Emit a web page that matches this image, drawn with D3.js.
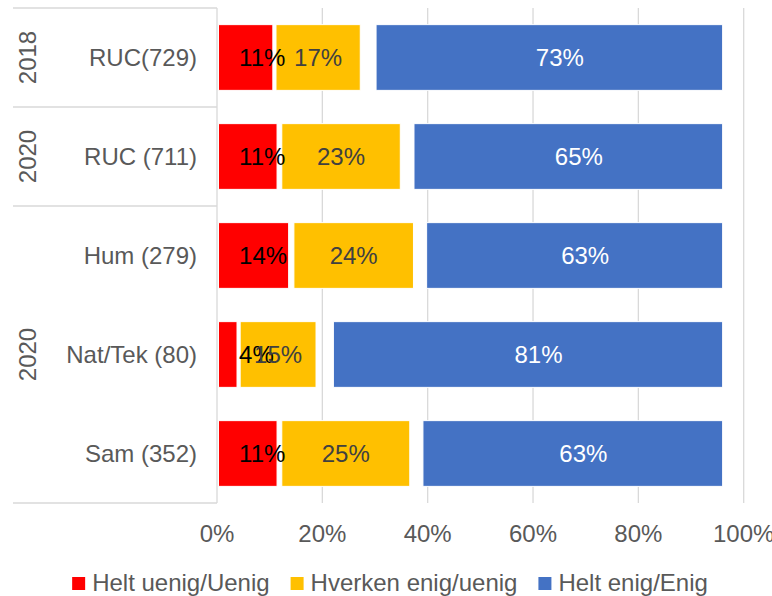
<!DOCTYPE html>
<html>
<head>
<meta charset="utf-8">
<script src="https://cdn.jsdelivr.net/npm/d3@7"></script>
<style>
  body { margin: 0; background: #fff; }
  text { font-family: "Liberation Sans", Arial, sans-serif; }
</style>
</head>
<body>
<div id="chart"></div>
<script>
const categories = ["RUC(729)", "RUC (711)", "Hum (279)", "Nat/Tek (80)", "Sam (352)"];
const yearGroups = ["2018", "2020", "2020"];
const yearSpans = [[0, 0], [1, 1], [2, 4]];

// printed percentages
const labelUenig = [11, 11, 14, 4, 11];
const labelHverken = [17, 23, 24, 15, 25];
const labelEnig = [73, 65, 63, 81, 63];

// bar lengths as drawn in the picture (axis %), with the blank spaces between
const uenig = [10.6, 11.4, 13.6, 3.8, 11.4];
const spaceA = [0.6, 0.9, 1.0, 0.6, 0.9];
const hverken = [16.0, 22.5, 22.7, 14.4, 24.3];
const spaceB = [3.0, 2.6, 2.5, 3.3, 2.5];
const enig = [65.8, 58.6, 56.2, 73.9, 56.9];

const xTicks = [0, 20, 40, 60, 80, 100];
const legendNames = ["Helt uenig/Uenig", "Hverken enig/uenig", "Helt enig/Enig"];
const colors = ["#FF0000", "#FFC000", "#4472C4"];

const W = 772, H = 596;
const FS = 24;
const svg = d3.select("#chart").append("svg").attr("width", W).attr("height", H);

const x = d3.scaleLinear().domain([0, 100]).range([217, 743.7]);
const y = d3.scaleBand().domain(categories).range([8, 503])
  .paddingInner(0.336).paddingOuter(0.168);

const rows = categories.map((c, i) => ({
  cat: c, uenig: uenig[i], spaceA: spaceA[i], hverken: hverken[i],
  spaceB: spaceB[i], enig: enig[i]
}));
const keys = ["uenig", "spaceA", "hverken", "spaceB", "enig"];
const stacked = d3.stack().keys(keys)(rows);
const fillFor = { uenig: colors[0], hverken: colors[1], enig: colors[2] };

// gridlines
svg.append("g").selectAll("line").data(xTicks).join("line")
  .attr("x1", d => x(d)).attr("x2", d => x(d))
  .attr("y1", 8).attr("y2", 503)
  .attr("stroke", "#d9d9d9").attr("stroke-width", 1.3);

// table lines at left
const step = y.step();
const bounds = [0, 1, 2, 5].map(k => 8 + k * step);
svg.append("g").selectAll("line").data(bounds).join("line")
  .attr("x1", 13).attr("x2", x(0))
  .attr("y1", d => d).attr("y2", d => d)
  .attr("stroke", "#d9d9d9").attr("stroke-width", 1.3);

// bars (white edge like the original, first segment kept off the axis line)
stacked.filter(s => fillFor[s.key]).forEach(s => {
  svg.append("g").selectAll("rect").data(s).join("rect")
    .attr("x", d => x(d[0]) + (d[0] === 0 ? 1.5 : 0))
    .attr("y", d => y(d.data.cat))
    .attr("width", d => x(d[1]) - x(d[0]) - (d[0] === 0 ? 1.5 : 0))
    .attr("height", y.bandwidth())
    .attr("fill", fillFor[s.key])
    .attr("stroke", "#fff").attr("stroke-width", 1);
});

const sOf = k => stacked.find(s => s.key === k);
const fmt = v => v + "%";

// labels
svg.append("g").selectAll("text").data(sOf("uenig")).join("text")
  .attr("x", x(4.2))
  .attr("y", d => y(d.data.cat) + y.bandwidth() / 2)
  .attr("dy", "0.35em")
  .attr("font-size", FS).attr("fill", "#000")
  .text((d, i) => fmt(labelUenig[i]));

svg.append("g").selectAll("text").data(sOf("hverken")).join("text")
  .attr("x", d => (x(d[0]) + x(d[1])) / 2)
  .attr("y", d => y(d.data.cat) + y.bandwidth() / 2)
  .attr("dy", "0.35em").attr("text-anchor", "middle")
  .attr("font-size", FS).attr("fill", "#404040")
  .text((d, i) => fmt(labelHverken[i]));

svg.append("g").selectAll("text").data(sOf("enig")).join("text")
  .attr("x", d => (x(d[0]) + x(100)) / 2)
  .attr("y", d => y(d.data.cat) + y.bandwidth() / 2)
  .attr("dy", "0.35em").attr("text-anchor", "middle")
  .attr("font-size", FS).attr("fill", "#fff")
  .text((d, i) => fmt(labelEnig[i]));

// category labels
svg.append("g").selectAll("text").data(categories).join("text")
  .attr("x", 197)
  .attr("y", d => y(d) + y.bandwidth() / 2)
  .attr("dy", "0.35em").attr("text-anchor", "end")
  .attr("font-size", FS).attr("fill", "#595959")
  .text(d => d);

// year labels
yearGroups.forEach((g, i) => {
  const [a, b] = yearSpans[i];
  const cy = (y(categories[a]) + y(categories[b]) + y.bandwidth()) / 2;
  svg.append("text")
    .attr("transform", `translate(28,${cy}) rotate(-90)`)
    .attr("dy", "0.35em").attr("text-anchor", "middle")
    .attr("font-size", FS).attr("fill", "#595959")
    .text(g);
});

// x axis labels
svg.append("g").selectAll("text").data(xTicks).join("text")
  .attr("x", d => x(d)).attr("y", 542)
  .attr("text-anchor", "middle")
  .attr("font-size", FS).attr("fill", "#595959")
  .text(d => d + "%");

// legend
const leg = svg.append("g");
let lx = 0;
legendNames.forEach((n, i) => {
  const g = leg.append("g").attr("transform", `translate(${lx},0)`);
  g.append("rect").attr("x", 0).attr("y", 577).attr("width", 13).attr("height", 13)
    .attr("fill", colors[i]);
  const t = g.append("text").attr("x", 20).attr("y", 591)
    .attr("font-size", FS).attr("fill", "#595959").text(n);
  lx += 20 + t.node().getComputedTextLength() + 21;
});
const legW = lx - 21;
leg.attr("transform", `translate(${390 - legW / 2},0)`);
</script>
</body>
</html>
